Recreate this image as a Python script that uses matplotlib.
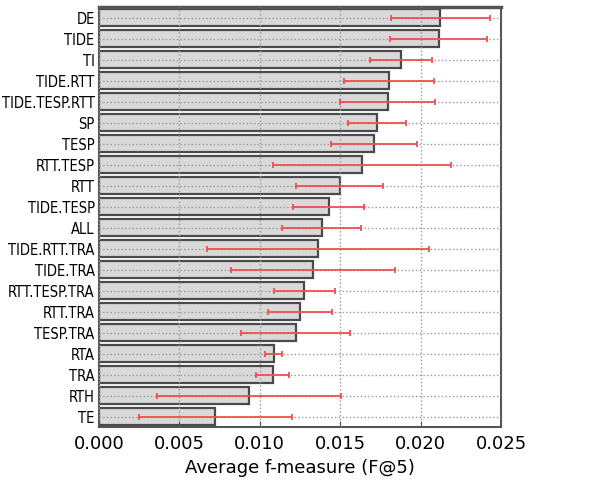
import matplotlib
matplotlib.use("Agg")
import matplotlib.pyplot as plt
import numpy as np

labels = ["DE", "TIDE", "TI", "TIDE.RTT", "TIDE.TESP.RTT", "SP", "TESP", "RTT.TESP",
          "RTT", "TIDE.TESP", "ALL", "TIDE.RTT.TRA", "TIDE.TRA", "RTT.TESP.TRA",
          "RTT.TRA", "TESP.TRA", "RTA", "TRA", "RTH", "TE"]
values = [0.02123, 0.02112, 0.01878, 0.01806, 0.01797, 0.01727, 0.01710, 0.01636,
          0.01497, 0.01428, 0.01385, 0.01364, 0.01333, 0.01277,
          0.01250, 0.01223, 0.01086, 0.01080, 0.00933, 0.00723]
errors = [0.00310, 0.00300, 0.00190, 0.00280, 0.00295, 0.00180, 0.00270, 0.00552,
          0.00270, 0.00220, 0.00245, 0.00690, 0.00510, 0.00190,
          0.00200, 0.00340, 0.00054, 0.00105, 0.00570, 0.00475]
xticks = [0.000, 0.005, 0.010, 0.015, 0.020, 0.025]

fig = plt.figure(figsize=(6.14, 4.82), dpi=100)
ax = fig.add_axes([0.161, 0.114, 0.655, 0.871])

n = len(labels)
y = np.arange(n)[::-1]
ax.barh(y, values, height=0.82, color="#d9d9d9", edgecolor="#4a4a4a",
        linewidth=1.6, zorder=2)
ax.errorbar(values, y, xerr=errors, fmt="none", ecolor="#f05050", elinewidth=1.3,
            capsize=2.5, capthick=1.3, zorder=3)

ax.set_xlim(0, 0.025)
ax.set_ylim(-0.5, n - 0.5)
ax.set_xticks(xticks)
ax.set_xticklabels([f"{v:.3f}" for v in xticks], fontsize=13)
ax.set_yticks(y)
ax.set_yticklabels(labels, fontsize=10.5,
                   family=["DejaVu Sans Condensed", "DejaVu Sans"],
                   fontstretch="condensed")
ax.tick_params(axis="y", length=0, pad=3)
ax.tick_params(axis="x", length=4, direction="in", color="#555555", pad=6)
ax.grid(True, linestyle=":", color="#999999", linewidth=1.0, zorder=0)
ax.set_axisbelow(False)
for s in ax.spines.values():
    s.set_color("#555555")
    s.set_linewidth(1.5)
ax.spines["top"].set_linewidth(2.5)
ax.set_xlabel("Average f-measure (F@5)", fontsize=13, labelpad=4)

fig.savefig("out.png", dpi=100)
